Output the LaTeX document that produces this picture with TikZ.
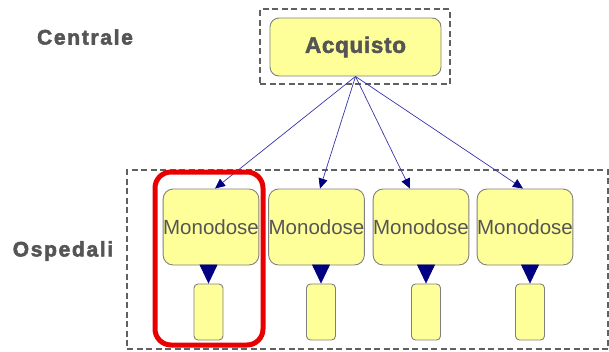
\documentclass[tikz,border=0pt]{standalone}
\usepackage{fontspec}
\setmainfont{Liberation Sans}
\newfontfamily\labelsp[LetterSpace=8,FakeBold=2.5]{Liberation Sans Bold}
\newfontfamily\boldsp[LetterSpace=3,FakeBold=2.2]{Liberation Sans Bold}
\usetikzlibrary{arrows.meta}
\definecolor{boxfill}{HTML}{FFFF99}
\definecolor{boxline}{HTML}{808080}
\definecolor{txtgray}{HTML}{555555}
\definecolor{dashgray}{HTML}{606060}
\definecolor{arrblue}{HTML}{3535A8}
\definecolor{tipblue}{HTML}{000080}
\definecolor{hired}{HTML}{E80000}
\tikzset{
  lbl/.style={text=txtgray, font=\labelsp\fontsize{21}{24}\selectfont, inner sep=0},
  dashbox/.style={draw=dashgray, line width=1.8pt, dash pattern=on 6pt off 3.5pt, inner sep=0},
  ybox/.style={draw=boxline, fill=boxfill, line width=0.9pt, inner sep=0},
  acqbox/.style={ybox, rounded corners=9pt, minimum width=171pt, minimum height=58pt, text=txtgray, font=\boldsp\fontsize{22.5}{26}\selectfont},
  monobox/.style={ybox, rounded corners=10pt, minimum width=93pt, minimum height=76pt, text=txtgray, font=\fontsize{20.5}{24}\selectfont},
  smallbox/.style={ybox, rounded corners=4pt, minimum width=29pt, minimum height=56pt},
  thinarr/.style={draw=arrblue, line width=0.7pt, -{Triangle[length=10pt,width=9pt,fill=tipblue,color=tipblue]}},
  bigarr/.style={draw=tipblue, line width=0.5pt, -{Triangle[length=19pt,width=18pt,fill=tipblue,color=tipblue]}},
  highlight/.style={draw=hired, line width=5pt, rounded corners=16pt, inner sep=0, minimum width=108pt, minimum height=173pt}
}
\begin{document}
\begin{tikzpicture}[x=1pt,y=-1pt]
\useasboundingbox (0,0) rectangle (609,351);
\node[lbl] (centrale) at (85,37) {Centrale};
\node[lbl] (ospedali) at (63,251) {Ospedali};
\node[dashbox, minimum width=190pt, minimum height=75pt] (top) at (355,46.5) {};
\node[dashbox, minimum width=481pt, minimum height=179pt] (bottom) at (367.5,259.5) {};
\node[acqbox] (acq) at (355.5,47) {Acquisto};
\node[monobox] (m1) at (211,227) {Monodose};
\node[monobox] (m2) at (316.5,227) {Monodose};
\node[monobox] (m3) at (421,227) {Monodose};
\node[monobox] (m4) at (525,227) {Monodose};
\node[smallbox] (s1) at (208.5,312) {};
\node[smallbox] (s2) at (321,312) {};
\node[smallbox] (s3) at (426,312) {};
\node[smallbox] (s4) at (530,312) {};
\draw[thinarr] (acq.south) -- ([xshift=4pt]m1.north);
\draw[thinarr] (acq.south) -- ([xshift=3.5pt]m2.north);
\draw[thinarr] (acq.south) -- ([xshift=-11pt]m3.north);
\draw[thinarr] (acq.south) -- ([xshift=-2pt]m4.north);
\draw[bigarr] (s1.north |- m1.south) -- (s1.north);
\draw[bigarr] (s2.north |- m2.south) -- (s2.north);
\draw[bigarr] (s3.north |- m3.south) -- (s3.north);
\draw[bigarr] (s4.north |- m4.south) -- (s4.north);
\node[highlight] (hl) at (209,258.5) {};
\end{tikzpicture}
\end{document}
